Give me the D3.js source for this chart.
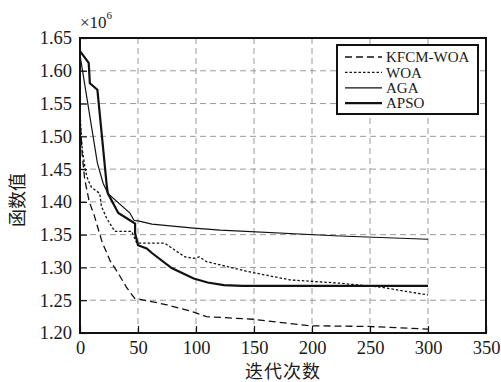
<!DOCTYPE html>
<html>
<head>
<meta charset="utf-8">
<script src="https://cdn.jsdelivr.net/npm/d3@7"></script>
<style>
  body { margin: 0; background: #fff; }
  text { font-family: "Liberation Serif", "DejaVu Serif", serif; fill: #1a1a1a; }
  .cjk { font-family: "Noto Sans CJK SC", sans-serif; }
</style>
</head>
<body>
<script>
// iteration counts and objective values (x 10^6)
var kfcmIter = [0, 2, 4, 8, 12, 19, 26, 33, 40, 47, 53, 75, 98, 109, 149, 198, 248, 300];
var kfcmVal  = [1.530, 1.470, 1.435, 1.400, 1.381, 1.339, 1.310, 1.291, 1.270, 1.253, 1.251, 1.243, 1.232, 1.225, 1.221, 1.211, 1.210, 1.206];

var woaIter = [0, 1, 2, 5, 7, 10, 17, 18.5, 23, 30, 44.5, 49, 73, 90.5, 98, 103, 109, 144, 181, 224, 259, 300];
var woaVal  = [1.540, 1.500, 1.479, 1.445, 1.433, 1.422, 1.413, 1.393, 1.375, 1.355, 1.355, 1.337, 1.337, 1.316, 1.314, 1.316, 1.309, 1.294, 1.281, 1.276, 1.270, 1.258];

var agaIter = [0, 15, 20, 24, 43, 46.5, 50, 62, 98, 121, 224, 300];
var agaVal  = [1.624, 1.459, 1.428, 1.413, 1.383, 1.372, 1.371, 1.366, 1.360, 1.357, 1.348, 1.343];

var apsoIter = [0, 7.5, 8.5, 15, 23, 24, 33, 43, 47.5, 47.5, 50, 57.5, 62, 79, 98, 110, 124, 140, 170, 220, 300];
var apsoVal  = [1.630, 1.612, 1.581, 1.571, 1.426, 1.413, 1.383, 1.372, 1.367, 1.352, 1.334, 1.329, 1.322, 1.299, 1.283, 1.277, 1.273, 1.272, 1.272, 1.272, 1.272];

var seriesNames = ["KFCM-WOA", "WOA", "AGA", "APSO"];
var xTicks = [0, 50, 100, 150, 200, 250, 300, 350];
var yTicks = [1.20, 1.25, 1.30, 1.35, 1.40, 1.45, 1.50, 1.55, 1.60, 1.65];

var W = 501, H = 382;
var margin = {top: 38, right: 15, bottom: 49, left: 80};
var width = W - margin.left - margin.right,
    height = H - margin.top - margin.bottom;

var svg = d3.select("body").append("svg")
    .attr("width", W)
    .attr("height", H);

var g = svg.append("g")
    .attr("transform", "translate(" + margin.left + "," + margin.top + ")");

var x = d3.scaleLinear().domain([0, 350]).range([0, width]);
var y = d3.scaleLinear().domain([1.20, 1.65]).range([height, 0]);

// grid
g.append("g").selectAll("line.gx")
    .data(xTicks.slice(1, -1))
  .enter().append("line")
    .attr("x1", function(d) { return x(d); })
    .attr("x2", function(d) { return x(d); })
    .attr("y1", 0).attr("y2", height)
    .attr("stroke", "#9a9a9a").attr("stroke-width", 1)
    .attr("stroke-dasharray", "6,4");

g.append("g").selectAll("line.gy")
    .data(yTicks.slice(1, -1))
  .enter().append("line")
    .attr("y1", function(d) { return y(d); })
    .attr("y2", function(d) { return y(d); })
    .attr("x1", 0).attr("x2", width)
    .attr("stroke", "#9a9a9a").attr("stroke-width", 1)
    .attr("stroke-dasharray", "6,4");

// axes (ticks inward)
var xAxis = g.append("g")
    .attr("transform", "translate(0," + height + ")")
    .call(d3.axisBottom(x).tickValues(xTicks).tickSize(-7).tickPadding(8).tickFormat(d3.format("d")));
var yAxis = g.append("g")
    .call(d3.axisLeft(y).tickValues(yTicks).tickSize(-7).tickPadding(8).tickFormat(d3.format(".2f")));

[xAxis, yAxis].forEach(function(a) {
  a.select(".domain").remove();
  a.selectAll("line").attr("stroke", "#111").attr("stroke-width", 1.2);
  a.selectAll("text").attr("font-size", 18.5)
    .style("font-family", "'Liberation Serif', serif").attr("fill", "#1a1a1a");
});

// series
var lineGen = d3.line()
    .x(function(d) { return x(d[0]); })
    .y(function(d) { return y(d[1]); });

var series = [
  {name: seriesNames[0], data: d3.zip(kfcmIter, kfcmVal), w: 1.3, dash: "7,4"},
  {name: seriesNames[1], data: d3.zip(woaIter, woaVal), w: 1.3, dash: "2.5,2"},
  {name: seriesNames[2], data: d3.zip(agaIter, agaVal), w: 1.2, dash: null},
  {name: seriesNames[3], data: d3.zip(apsoIter, apsoVal), w: 2.2, dash: null}
];

g.selectAll("path.series")
    .data(series)
  .enter().append("path")
    .attr("class", "series")
    .attr("fill", "none")
    .attr("stroke", "#111")
    .attr("stroke-width", function(d) { return d.w; })
    .attr("stroke-dasharray", function(d) { return d.dash; })
    .attr("d", function(d) { return lineGen(d.data); });

// frame
g.append("rect")
    .attr("width", width).attr("height", height)
    .attr("fill", "none").attr("stroke", "#111").attr("stroke-width", 2);

// legend
var leg = g.append("g").attr("transform", "translate(" + (337 - margin.left) + "," + (45 - margin.top) + ")");
leg.append("rect")
    .attr("width", 141).attr("height", 69)
    .attr("fill", "#fff").attr("stroke", "#111").attr("stroke-width", 2);
var item = leg.selectAll("g.item")
    .data(series)
  .enter().append("g")
    .attr("transform", function(d, i) { return "translate(0," + (12 + i * 15.4) + ")"; });
item.append("line")
    .attr("x1", 8).attr("x2", 45)
    .attr("stroke", "#111")
    .attr("stroke-width", function(d) { return d.w; })
    .attr("stroke-dasharray", function(d) { return d.dash; });
item.append("text")
    .attr("x", 49).attr("dy", "0.35em")
    .attr("font-size", 15)
    .text(function(d) { return d.name; });

// exponent label
var ex = svg.append("text")
    .attr("x", 80).attr("y", 28)
    .attr("font-size", 17);
ex.append("tspan").text("\u00d710");
ex.append("tspan").attr("dy", -9).attr("font-size", 11).text("6");

// axis titles
svg.append("text")
    .attr("class", "cjk")
    .attr("x", margin.left + width / 2)
    .attr("y", 378)
    .attr("text-anchor", "middle")
    .attr("font-size", 18)
    .attr("letter-spacing", 1)
    .text("迭代次数");

svg.append("text")
    .attr("class", "cjk")
    .attr("transform", "translate(24,200) rotate(-90)")
    .attr("text-anchor", "middle")
    .attr("font-size", 18)
    .text("函数值");
</script>
</body>
</html>
